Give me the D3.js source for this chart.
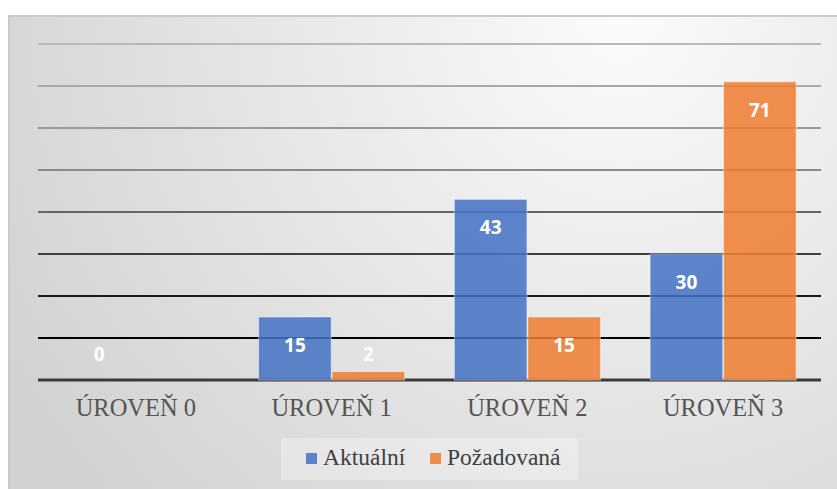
<!DOCTYPE html>
<html>
<head>
<meta charset="utf-8">
<script src="https://cdn.jsdelivr.net/npm/d3@7"></script>
<style>
  body { margin: 0; background: #fff; }
  svg { display: block; }
  .serif { font-family: "Liberation Serif", "Times New Roman", serif; }
</style>
</head>
<body>
<div id="chart"></div>
<script>
// chart values
const categories = ["ÚROVEŇ 0", "ÚROVEŇ 1", "ÚROVEŇ 2", "ÚROVEŇ 3"];
const seriesNames = ["Aktuální", "Požadovaná"];
const aktualni = [0, 15, 43, 30];
const pozadovana = [null, 2, 15, 71];
const yTicks = [0, 10, 20, 30, 40, 50, 60, 70, 80];

const colors = ["#4472C4", "#ED7D31"];

const W = 837, H = 489;
const margin = { top: 44, left: 38, right: 16, bottom: 109 };

const svg = d3.select("#chart").append("svg")
    .attr("width", W)
    .attr("height", H);

const defs = svg.append("defs");
const bg = defs.append("radialGradient")
    .attr("id", "bg")
    .attr("gradientUnits", "userSpaceOnUse")
    .attr("cx", 620).attr("cy", 20).attr("r", 700);
bg.append("stop").attr("offset", "0%").attr("stop-color", "#fbfbfb");
bg.append("stop").attr("offset", "100%").attr("stop-color", "#d2d2d2");

// chart area frame (runs off the right and bottom of the picture)
svg.append("rect")
    .attr("x", 9).attr("y", 16)
    .attr("width", 860).attr("height", 500)
    .attr("fill", "url(#bg)")
    .attr("stroke", "#cbcbcb")
    .attr("stroke-width", 2);

const g = svg.append("g");

const y = d3.scaleLinear()
    .domain([0, 80])
    .range([H - margin.bottom, margin.top]);

const x0 = d3.scaleBand()
    .domain(categories)
    .range([margin.left, W - margin.right])
    .paddingInner(0.254)
    .paddingOuter(0.127);

const x1 = d3.scaleBand()
    .domain(seriesNames)
    .range([0, x0.bandwidth()])
    .paddingInner(0.012);

// gridlines: grey at the top, going darker to black near the bottom
const gridColor = d3.scaleLinear()
    .domain([80, 50, 20, 10])
    .range(["#b8b8b8", "#8a8a8a", "#1a1a1a", "#000000"]);

g.append("g")
  .selectAll("line")
  .data(yTicks.filter(d => d > 0))
  .enter().append("line")
    .attr("x1", margin.left)
    .attr("x2", W - margin.right)
    .attr("y1", d => y(d))
    .attr("y2", d => y(d))
    .attr("stroke", d => gridColor(d))
    .attr("stroke-width", 2);

// base line
g.append("line")
    .attr("x1", margin.left)
    .attr("x2", W - margin.right)
    .attr("y1", y(0))
    .attr("y2", y(0))
    .attr("stroke", "#3a3a3a")
    .attr("stroke-width", 3);

const rows = categories.map((c, i) => ({
  cat: c,
  values: [aktualni[i], pozadovana[i]]
}));

const groups = g.append("g")
  .selectAll("g")
  .data(rows)
  .enter().append("g")
    .attr("transform", d => "translate(" + x0(d.cat) + ",0)");

groups.selectAll("rect")
  .data(d => d.values.map((v, j) => ({ name: seriesNames[j], v: v, j: j })).filter(d => d.v !== null))
  .enter().append("rect")
    .attr("x", d => x1(d.name))
    .attr("y", d => y(d.v))
    .attr("width", x1.bandwidth())
    .attr("height", d => y(0) - y(d.v))
    .attr("fill", d => colors[d.j])
    .attr("fill-opacity", 0.86)
    .attr("stroke", "#ffffff")
    .attr("stroke-opacity", 0.45)
    .attr("stroke-width", 1);

// value labels
groups.selectAll("text")
  .data(d => d.values.map((v, j) => ({ name: seriesNames[j], v: v, j: j })).filter(d => d.v !== null))
  .enter().append("text")
    .attr("x", d => x1(d.name) + x1.bandwidth() / 2)
    .attr("y", d => Math.min(y(d.v) + 28, y(0) - 26))
    .attr("text-anchor", "middle")
    .attr("dominant-baseline", "central")
    .attr("font-family", "'Open Sans', sans-serif")
    .attr("font-weight", 700)
    .attr("font-size", 19)
    .attr("fill", "#ffffff")
    .text(d => d.v);

// category labels
g.append("g")
  .selectAll("text")
  .data(categories)
  .enter().append("text")
    .attr("class", "serif")
    .attr("x", d => x0(d) + x0.bandwidth() / 2)
    .attr("y", y(0) + 36)
    .attr("text-anchor", "middle")
    .attr("font-size", 24.5)
    .attr("fill", "#555555")
    .text(d => d);

// legend
const legend = svg.append("g");
legend.append("rect")
    .attr("x", 281).attr("y", 438)
    .attr("width", 297).attr("height", 42)
    .attr("fill", "#ffffff")
    .attr("fill-opacity", 0.3);

const legendX = [306, 430];
seriesNames.forEach((name, i) => {
  legend.append("rect")
      .attr("x", legendX[i]).attr("y", 453)
      .attr("width", 11).attr("height", 11)
      .attr("fill", colors[i])
      .attr("fill-opacity", 0.86);
  legend.append("text")
      .attr("class", "serif")
      .attr("x", legendX[i] + 17)
      .attr("y", 465)
      .attr("font-size", 23.5)
      .attr("fill", "#404040")
      .text(name);
});
</script>
</body>
</html>
